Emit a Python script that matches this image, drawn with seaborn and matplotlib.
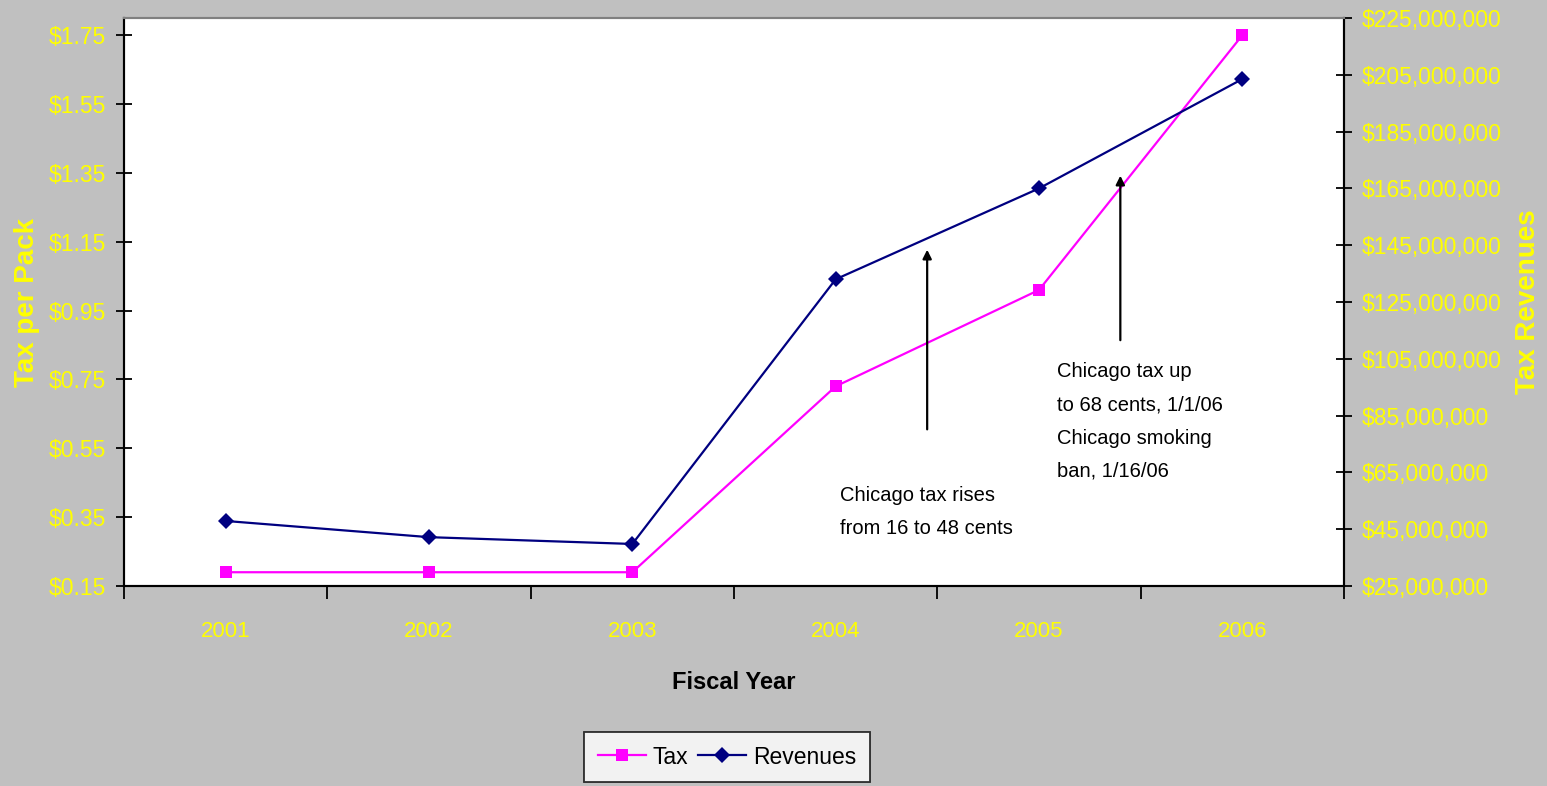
import matplotlib
matplotlib.use("Agg")
import matplotlib.pyplot as plt
import matplotlib.ticker as mticker
import seaborn as sns
import pandas as pd

# Data
years = ["2001", "2002", "2003", "2004", "2005", "2006"]
tax = [0.19, 0.19, 0.19, 0.73, 1.01, 1.75]
revenues = [47_900_000, 42_200_000, 39_800_000, 133_000_000, 165_000_000, 203_500_000]

left_ticks = [0.15, 0.35, 0.55, 0.75, 0.95, 1.15, 1.35, 1.55, 1.75]
right_ticks = [25e6, 45e6, 65e6, 85e6, 105e6, 125e6, 145e6, 165e6, 185e6, 205e6, 225e6]

df = pd.DataFrame({"Fiscal Year": years, "Tax": tax, "Revenues": revenues})

bg = "#C0C0C0"
yellow = "#FFFF00"
plt.rcParams["font.family"] = ["Liberation Sans", "DejaVu Sans"]

fig = plt.figure(figsize=(15.47, 7.86), dpi=100, facecolor=bg)
ax = fig.add_axes([124 / 1547, 1 - 586 / 786, 1220 / 1547, 568 / 786])
ax.set_facecolor("white")
ax2 = ax.twinx()

sns.lineplot(data=df, x="Fiscal Year", y="Tax", ax=ax, color="#FF00FF", marker="s",
             markersize=8.5, markeredgewidth=0, linewidth=1.6, label="Tax")
sns.lineplot(data=df, x="Fiscal Year", y="Revenues", ax=ax2, color="#000080", marker="D",
             markersize=8.5, markeredgewidth=0, linewidth=1.6, label="Revenues")

# x axis: tick marks between categories, labels centered
ax.set_xlim(-0.5, len(years) - 0.5)
ax.set_xticks([i - 0.5 for i in range(len(years) + 1)])
ax.set_xticklabels([])
ax.set_xticks(range(len(years)), minor=True)
ax.set_xticklabels(years, minor=True)
ax.tick_params(axis="x", which="major", direction="out", length=9, width=1.3, color="black")
ax.tick_params(axis="x", which="minor", length=0, pad=25, labelsize=16, labelcolor=yellow)
ax.set_xlabel("Fiscal Year", fontsize=17, fontweight="bold", labelpad=21)

ax.set_ylim(0.15, 1.80)
ax.set_yticks(left_ticks)
ax.yaxis.set_major_formatter(mticker.FuncFormatter(lambda v, p: f"${v:.2f}"))
ax.tick_params(axis="y", direction="inout", length=12, width=1.3, labelsize=16.5,
               labelcolor=yellow, pad=7)
ax.set_ylabel("Tax per Pack", fontsize=20, fontweight="bold", color=yellow, labelpad=6)

ax2.set_ylim(25e6, 225e6)
ax2.set_yticks(right_ticks)
ax2.yaxis.set_major_formatter(mticker.FuncFormatter(lambda v, p: f"${v:,.0f}"))
ax2.tick_params(axis="y", direction="inout", length=12, width=1.3, labelsize=16.5,
                labelcolor=yellow, pad=7)
ax2.set_ylabel("Tax Revenues", fontsize=20, fontweight="bold", color=yellow, labelpad=9)

for a in (ax, ax2):
    for side in ("left", "bottom", "right"):
        a.spines[side].set_color("black")
        a.spines[side].set_linewidth(1.5)
    a.spines["top"].set_color("#808080")
    a.spines["top"].set_linewidth(1.5)
    a.grid(False)

# annotations
arrow = dict(arrowstyle="-|>", color="black", lw=1.6, mutation_scale=13)
ax.annotate("", xy=(3.45, 1.135), xytext=(3.45, 0.597), arrowprops=arrow)
ax.annotate("", xy=(4.40, 1.35), xytext=(4.40, 0.856), arrowprops=arrow)
ax.text(3.02, 0.44, "Chicago tax rises\nfrom 16 to 48 cents", fontsize=14.5,
        va="top", ha="left", linespacing=1.95)
ax.text(4.09, 0.80, "Chicago tax up\nto 68 cents, 1/1/06\nChicago smoking\nban, 1/16/06",
        fontsize=14.5, va="top", ha="left", linespacing=1.95)

# combined legend below the plot
h1, l1 = ax.get_legend_handles_labels()
h2, l2 = ax2.get_legend_handles_labels()
ax.get_legend().remove()
ax2.get_legend().remove()
leg = fig.legend(h1 + h2, l1 + l2, loc="center", bbox_to_anchor=(727 / 1547, 1 - 757 / 786),
                 ncol=2, frameon=True, fancybox=False, edgecolor="black", facecolor="white",
                 prop={"size": 16.5}, handlelength=2.1, handletextpad=0.3,
                 columnspacing=0.4, borderpad=0.6)
leg.get_frame().set_linewidth(1.3)

fig.savefig("out.png", dpi=100, facecolor=bg)
